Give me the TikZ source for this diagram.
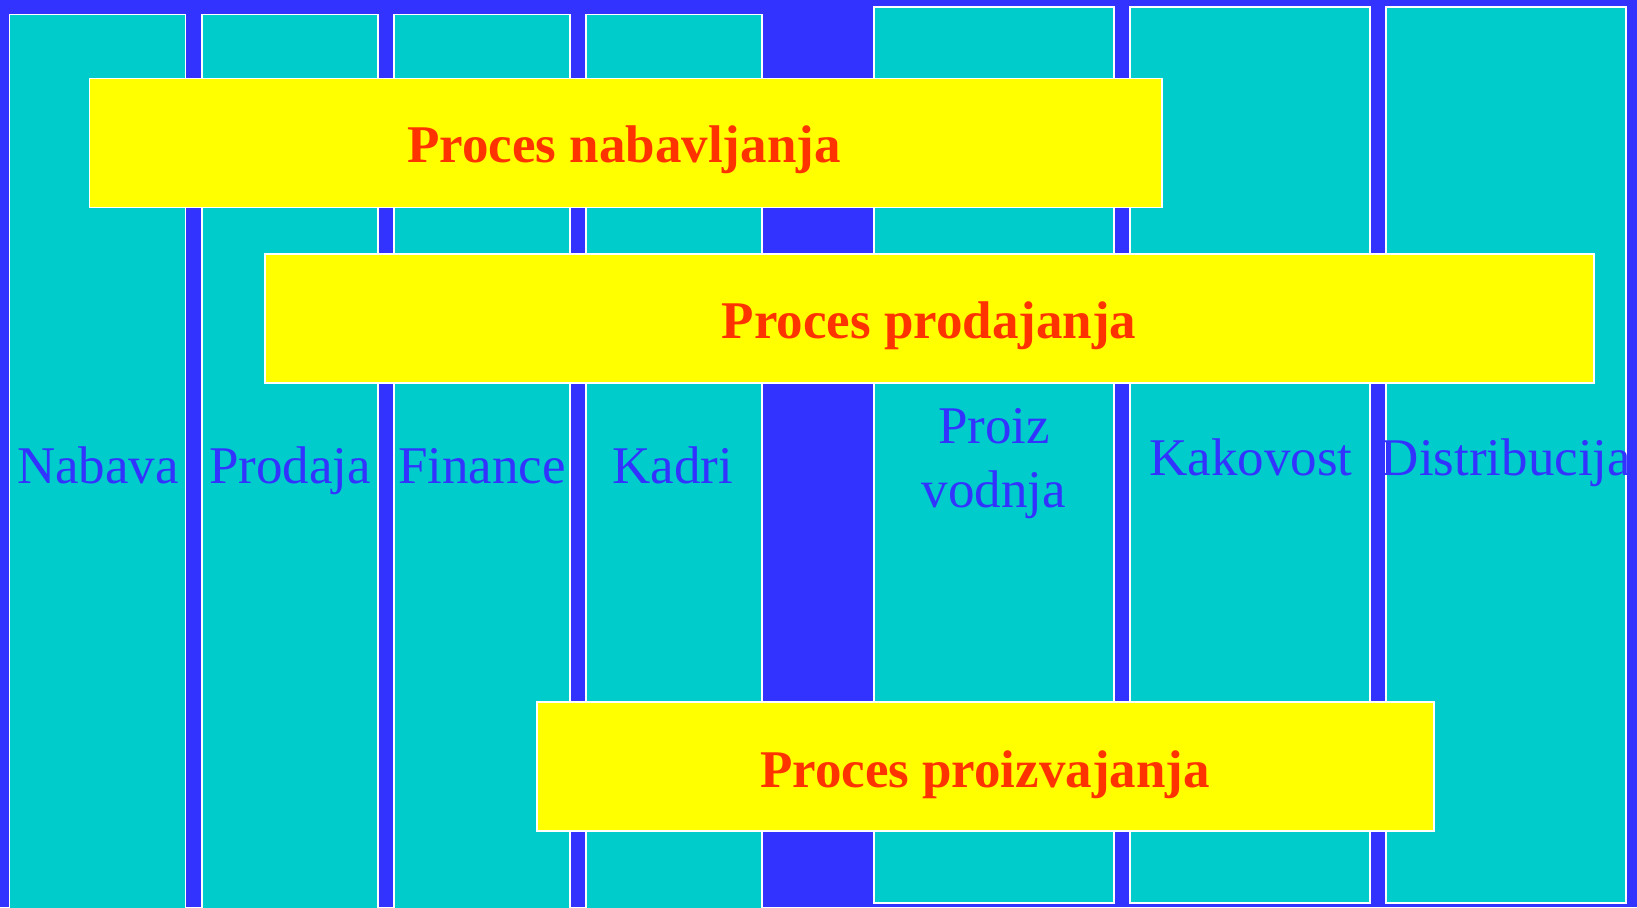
\documentclass[tikz,border=0pt]{standalone}
\usepackage{fontspec}
\setmainfont{Liberation Serif}
\definecolor{bg}{HTML}{3333FF}
\definecolor{colfill}{HTML}{00CCCC}
\definecolor{procfill}{HTML}{FFFF00}
\definecolor{proctext}{HTML}{FF3300}
\begin{document}
\begin{tikzpicture}[x=1pt,y=-1pt,
 dept/.style={draw=white,line width=1.5pt,fill=colfill,anchor=north west,inner sep=0pt,outer sep=0pt},
 narrowdept/.style={dept,minimum width=176pt,minimum height=901pt},
 widedept/.style={dept,minimum width=240pt,minimum height=896pt},
 proc/.style={draw=white,line width=1.5pt,fill=procfill,anchor=north west,inner sep=0pt,outer sep=0pt,minimum height=129pt},
 deptlabel/.style={text=bg,font=\fontsize{53}{62}\selectfont,anchor=base,inner sep=0pt,align=center},
 proclabel/.style={text=proctext,font=\fontsize{53}{62}\selectfont\bfseries,anchor=base,inner sep=0pt}]
\fill[bg] (0,0) rectangle (1637,907);
\useasboundingbox (0,0) rectangle (1637,907);
\clip (0,0) rectangle (1637,907);
% department columns
\node[narrowdept] (c1) at (9.5,14.5) {};
\node[narrowdept] (c2) at (202,14.5) {};
\node[narrowdept] (c3) at (394,14.5) {};
\node[narrowdept] (c4) at (586,14.5) {};
\node[widedept] (c5) at (874,7) {};
\node[widedept] (c6) at (1130,7) {};
\node[widedept] (c7) at (1386,7) {};
% column labels
\node[deptlabel] (l1) at (98,483) {Nabava};
\node[deptlabel] (l2) at (290,483) {Prodaja};
\node[deptlabel] (l3) at (482,483) {Finance};
\node[deptlabel] (l4) at (673,483) {Kadri};
\node[deptlabel] (l5a) at (994,443) {Proiz};
\node[deptlabel] (l5b) at (994,507) {vodnja};
\node[deptlabel] (l6) at (1251,475) {Kakovost};
\node[deptlabel] (l7) at (1506,475) {Distribucija};
% process bars
\node[proc,minimum width=1072.5pt] (p1) at (89.5,78.5) {};
\node[proc,minimum width=1329pt] (p2) at (265,254) {};
\node[proc,minimum width=897pt] (p3) at (537,702) {};
\node[proclabel] (t1) at (624,162) {Proces nabavljanja};
\node[proclabel] (t2) at (929,338) {Proces prodajanja};
\node[proclabel] (t3) at (985,787) {Proces proizvajanja};
\end{tikzpicture}
\end{document}
